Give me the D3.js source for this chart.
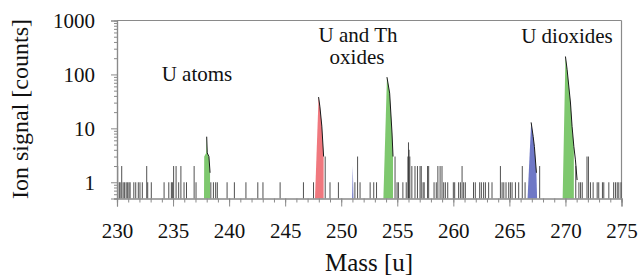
<!DOCTYPE html>
<meta charset="utf-8">
<html>
<head>
<script src="https://d3js.org/d3.v7.min.js"></script>
<style>
  body { margin: 0; background: #fff; }
  svg text { font-family: "Liberation Serif", "Times New Roman", Tinos, "DejaVu Serif", serif !important; fill: #111; }
</style>
</head>
<body>
<div id="viz"></div>
<script>
// isolated single-bin counts (mass in u, counts)
const noiseMass = [230.06,230.2,230.28,230.42,230.55,230.68,230.82,230.95,231.07,231.17,231.5,231.67,231.9,232.05,232.26,232.65,232.74,233.06,
  234.2,234.62,234.85,234.94,235.05,235.27,235.5,235.7,235.98,236.2,236.88,237.05,238.37,238.6,238.8,238.95,239.82,240.47,241.5,242.56,243.02,
  244.55,246.63,247.53,248.57,249.0,249.75,251.22,251.46,251.68,252.58,252.9,253.15,254.8,254.98,255.1,255.5,255.8,255.95,256.0,256.05,256.12,
  256.3,256.58,256.8,257.03,257.14,257.3,257.4,257.7,257.8,258.28,258.48,258.62,258.82,258.99,259.14,259.29,259.5,260.0,260.12,260.47,260.63,
  260.78,260.92,261.07,261.8,261.96,262.35,262.5,262.7,262.86,263.15,263.45,264.2,264.35,264.5,264.7,264.94,265.09,265.24,265.54,265.83,266.15,
  266.4,267.7,270.92,271.2,271.35,271.5,271.92,272.05,272.23,272.47,272.83,272.97,273.3,273.42,273.87,274.3,274.46,274.62,274.76,274.95];
const noiseCount = [2,1,1,2,1,1,1,1,1,1,1,1,1,1,1,2,1,1,
  1,1,1,1,2,2,1,2,1,1,2,1,1,1,1,1,1,1,1,1,1,
  1,1,1,3,1,1,1,3,1,1,1,1,3,1,1,1,1,3,5.5,4,3,
  2,2,2,2,2,1,1,2,2,1,1,2,2,2,1,1,1,1,1,1,1,
  2,1,1,1,1,1,1,1,1,1,1,2,1,1,1,1,1,1,1,1,2,
  1,2,2,1,1,1,3,3,1,1,1,1,1,1,1,1,1,1,1,1];

// coloured peaks: outline points (mass, counts)
const atomMass = [237.76,237.78,237.95,238.0,238.05,238.2,238.3,238.3];
const atomCount = [0.5,3,3.5,7,3.5,3,1.5,0.5];
const thoMass = [247.66,247.98,248.1,248.27,248.43,248.43];
const thoCount = [0.5,38,25,11,3,0.5];
const tho2Mass = [250.97,251.03,251.09];
const tho2Count = [0.5,2,0.5];
const uoMass = [253.76,254.08,254.32,254.53,254.62,254.62];
const uoCount = [0.5,89,45,8.2,3,0.5];
const tho3Mass = [266.62,266.94,267.12,267.23,267.41,267.47];
const tho3Count = [0.5,12.9,7.1,4.6,1.5,0.5];
const uo2Mass = [269.75,270.0,270.15,270.45,270.59,270.75,270.75];
const uo2Count = [0.5,215,122,29.5,10.9,4.6,0.5];
const tailMass = [270.75,270.89,271.04];
const tailCount = [4.6,2.6,1.1];

const peakColors = ["#7ec86e","#f0787e","#6f78c6","#7ec86e","#6f78c6","#7ec86e"];

const yMajor = [1,10,100,1000];
const xMajor = [230,235,240,245,250,255,260,265,270,275];

const W = 642, H = 277;
const svg = d3.select("#viz").append("svg").attr("width", W).attr("height", H);

const x = d3.scaleLinear().domain([230,275]).range([117,621.5]);
const y = d3.scaleLog().domain([0.5,1000]).range([198.5,20.5]);

const axisColor = "#8a8a8a";
const serif = '"Liberation Serif", "Times New Roman", Tinos, "DejaVu Serif", serif';

// frame top & right
svg.append("line").attr("x1", x(230)).attr("x2", x(275)).attr("y1", y(1000)).attr("y2", y(1000))
  .attr("stroke", axisColor).attr("stroke-width", 1.2);
svg.append("line").attr("x1", x(275)).attr("x2", x(275)).attr("y1", y(1000)).attr("y2", y(0.5))
  .attr("stroke", axisColor).attr("stroke-width", 1.2);

// peaks
const peaks = [[atomMass,atomCount],[thoMass,thoCount],[tho2Mass,tho2Count],[uoMass,uoCount],[tho3Mass,tho3Count],[uo2Mass,uo2Count]];
const line = d3.line().x(d => x(d[0])).y(d => y(d[1]));
peaks.forEach((p, i) => {
  const pts = p[0].map((m, j) => [m, p[1][j]]);
  svg.append("path").attr("d", line(pts) + "Z").attr("fill", peakColors[i]).attr("stroke", "none");
  const top = d3.maxIndex(p[1]);
  svg.append("path").attr("d", line(pts.slice(top, pts.length - 1)))
    .attr("fill", "none").attr("stroke", "#1a1a1a").attr("stroke-width", 1);
});
svg.append("path").attr("d", line(tailMass.map((m, j) => [m, tailCount[j]])))
  .attr("fill", "none").attr("stroke", "#1a1a1a").attr("stroke-width", 1);

// noise bins
svg.append("g").selectAll("line").data(noiseMass).join("line")
  .attr("x1", d => x(d)).attr("x2", d => x(d))
  .attr("y1", y(0.5)).attr("y2", (d, i) => y(noiseCount[i]))
  .attr("stroke", "#333").attr("stroke-width", 1).attr("opacity", 0.85);

// y axis
const yMinor = y.ticks().filter(v => yMajor.indexOf(v) < 0);
const gy = svg.append("g").attr("transform", `translate(${x(230)},0)`);
gy.call(d3.axisLeft(y).tickValues(yMinor).tickSize(3).tickFormat(""));
const gy2 = svg.append("g").attr("transform", `translate(${x(230)},0)`);
gy2.call(d3.axisLeft(y).tickValues(yMajor).tickSize(6).tickPadding(16).tickFormat(d3.format("d")));

// x axis
const gx = svg.append("g").attr("transform", `translate(0,${y(0.5)})`);
gx.call(d3.axisBottom(x).tickValues(d3.range(230,276,1)).tickSize(4).tickFormat(""));
const gx2 = svg.append("g").attr("transform", `translate(0,${y(0.5)})`);
gx2.call(d3.axisBottom(x).tickValues(xMajor).tickSize(8).tickPadding(17).tickFormat(d3.format("d")));

svg.selectAll("g").attr("font-family", serif);
svg.selectAll(".domain").attr("stroke", axisColor).attr("stroke-width", 1.2);
svg.selectAll(".tick line").attr("stroke", axisColor);
svg.selectAll(".tick text").attr("font-size", 21).attr("fill", "#111");

function label(px, py, t, size) {
  svg.append("text").attr("x", px).attr("y", py).attr("text-anchor", "middle")
    .attr("font-family", serif).attr("font-size", size).text(t);
}
// titles
label(369, 271, "Mass [u]", 25);
svg.append("text").attr("transform", "translate(28,109) rotate(-90)").attr("text-anchor", "middle")
  .attr("font-family", serif).attr("font-size", 24).text("Ion signal [counts]");

// annotations
label(197, 81, "U atoms", 21);
label(358, 42, "U and Th", 21);
label(357, 64, "oxides", 21);
label(567, 43, "U dioxides", 21);
</script>
</body>
</html>
